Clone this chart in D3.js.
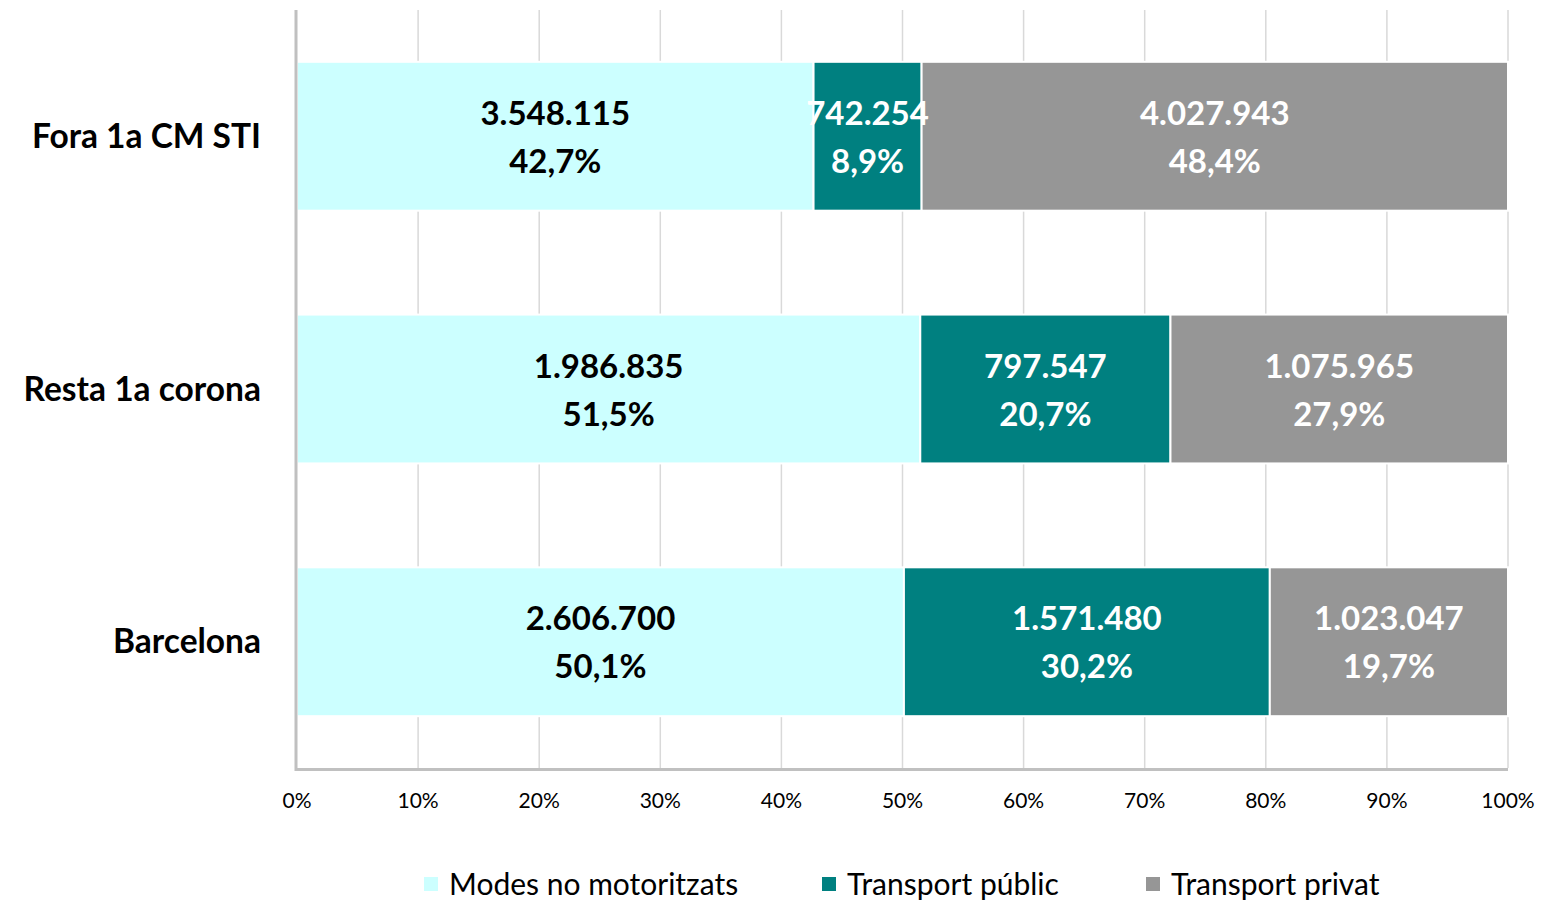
<!DOCTYPE html>
<html>
<head>
<meta charset="utf-8">
<script src="https://cdn.jsdelivr.net/npm/d3@7"></script>
<style>
    body { margin: 0; background: #fff; }
    text { font-family: Lato, "Open Sans", sans-serif; }
</style>
</head>
<body>
<svg id="chart" width="1546" height="900"></svg>
<script>
// categories top to bottom
var categories = ["Fora 1a CM STI", "Resta 1a corona", "Barcelona"];
var seriesNames = ["Modes no motoritzats", "Transport públic", "Transport privat"];
var noMotor = [3548115, 1986835, 2606700];
var publicT = [742254, 797547, 1571480];
var privat = [4027943, 1075965, 1023047];
var tickLabels = [0, 10, 20, 30, 40, 50, 60, 70, 80, 90, 100];

var colors = ["#CCFFFF", "#008080", "#969696"];
var textColors = ["#000", "#fff", "#fff"];

var svg = d3.select("#chart");

var margin = {top: 10, left: 297, bottom: 132, right: 38},
    width = 1546,
    height = 900;

var data = categories.map(function(c, i) {
    var row = {category: c};
    row[seriesNames[0]] = noMotor[i];
    row[seriesNames[1]] = publicT[i];
    row[seriesNames[2]] = privat[i];
    row.total = noMotor[i] + publicT[i] + privat[i];
    return row;
});

var stack = d3.stack()
    .keys(seriesNames)
    .value(function(d, k) { return d[k] / d.total * 100; });

var layers = stack(data);

var x = d3.scaleLinear()
    .domain([0, 100])
    .range([margin.left, width - margin.right]);

var y = d3.scaleBand()
    .domain(categories)
    .range([margin.top, height - margin.bottom])
    .paddingInner(0.411)
    .paddingOuter(0.205);

var plotBottom = height - margin.bottom;

// gridlines
svg.append("g")
    .selectAll("line")
    .data(tickLabels.slice(1))
    .enter().append("line")
    .attr("x1", d => x(d)).attr("x2", d => x(d))
    .attr("y1", margin.top).attr("y2", plotBottom)
    .attr("stroke", "#d9d9d9")
    .attr("stroke-width", 1.5);

// bars
var group = svg.selectAll("g.layer")
    .data(layers)
    .enter().append("g")
    .attr("class", "layer")
    .attr("fill", (d, i) => colors[i]);

group.selectAll("rect")
    .data(d => d)
    .enter().append("rect")
    .attr("x", d => x(d[0]))
    .attr("y", d => y(d.data.category))
    .attr("width", d => x(d[1]) - x(d[0]))
    .attr("height", y.bandwidth())
    .attr("stroke", "#fff")
    .attr("stroke-width", 2);

// labels
var fmtNum = function(v) {
    return d3.format(",")(v).replace(/,/g, ".");
};
var fmtPct = function(v) {
    return d3.format(".1f")(v).replace(".", ",") + "%";
};

layers.forEach(function(layer, i) {
    var g = svg.append("g").attr("fill", textColors[i])
        .attr("font-weight", "bold")
        .attr("font-size", 33)
        .attr("text-anchor", "middle");
    layer.forEach(function(d) {
        var cx = (x(d[0]) + x(d[1])) / 2;
        var cy = y(d.data.category) + y.bandwidth() / 2;
        g.append("text")
            .attr("x", cx)
            .attr("y", cy - 23)
            .attr("dy", "0.35em")
            .text(fmtNum(d.data[layer.key]));
        g.append("text")
            .attr("x", cx)
            .attr("y", cy + 25)
            .attr("dy", "0.35em")
            .text(fmtPct(d[1] - d[0]));
    });
});

// axes lines
svg.append("line")
    .attr("x1", margin.left - 1).attr("x2", margin.left - 1)
    .attr("y1", margin.top).attr("y2", plotBottom + 3)
    .attr("stroke", "#c0c0c0").attr("stroke-width", 3);
svg.append("line")
    .attr("x1", margin.left - 2).attr("x2", x(100))
    .attr("y1", plotBottom + 1.5).attr("y2", plotBottom + 1.5)
    .attr("stroke", "#c0c0c0").attr("stroke-width", 3);

// x tick labels
svg.append("g")
    .selectAll("text")
    .data(tickLabels)
    .enter().append("text")
    .attr("x", d => x(d))
    .attr("y", 801)
    .attr("dy", "0.35em")
    .attr("text-anchor", "middle")
    .attr("font-size", 21)
    .attr("fill", "#000")
    .text(d => d + "%");

// y category labels
svg.append("g")
    .selectAll("text")
    .data(categories)
    .enter().append("text")
    .attr("x", 261)
    .attr("y", d => y(d) + y.bandwidth() / 2)
    .attr("dy", "0.35em")
    .attr("text-anchor", "end")
    .attr("font-size", 33.5)
    .attr("font-weight", "bold")
    .attr("fill", "#000")
    .text(d => d);

// legend
var legendX = [424, 822, 1146];
var legend = svg.append("g")
    .selectAll("g")
    .data(seriesNames)
    .enter().append("g")
    .attr("transform", (d, i) => `translate(${legendX[i]},884)`);

legend.append("rect")
    .attr("x", 0).attr("y", -7)
    .attr("width", 14).attr("height", 14)
    .attr("fill", (d, i) => colors[i]);

legend.append("text")
    .attr("x", 25)
    .attr("dy", "0.35em")
    .attr("font-size", 30)
    .attr("fill", "#000")
    .text(d => d);
</script>
</body>
</html>
